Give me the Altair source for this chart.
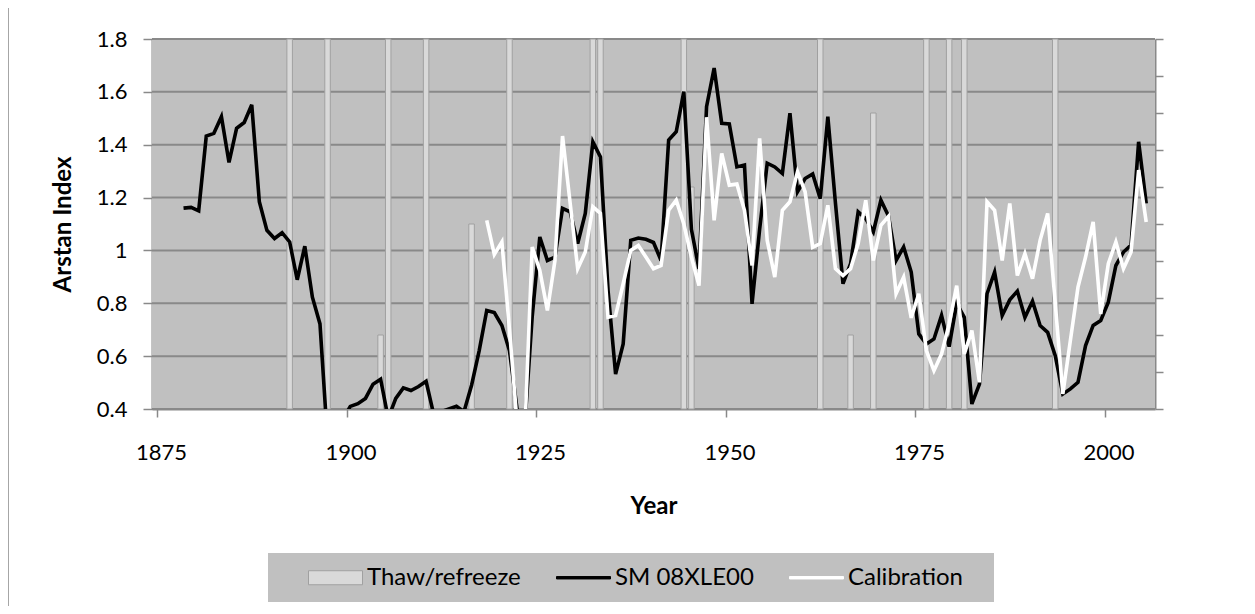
import altair as alt
import pandas as pd

# ---------------- data ----------------
series_names = ["Thaw/refreeze", "SM 08XLE00", "Calibration"]
series_fill = ["#d9d9d9", "#000000", "#ffffff"]
series_stroke = ["#a0a0a0", "#000000", "#ffffff"]

sm_years = list(range(1878, 2006))
sm_values = [1.16, 1.163, 1.15, 1.433, 1.443, 1.506, 1.333, 1.462, 1.484, 1.551,   # 1878-1887
             1.184, 1.076, 1.045, 1.067, 1.032, 0.889, 1.016, 0.823, 0.722, 0.28,   # 1888-1897
             0.25, 0.36, 0.41, 0.42, 0.44, 0.494, 0.513, 0.365, 0.44, 0.48,         # 1898-1907
             0.47, 0.485, 0.505, 0.38, 0.39, 0.40, 0.41, 0.39, 0.49, 0.62,          # 1908-1917
             0.773, 0.765, 0.716, 0.62, 0.40, 0.33, 0.75, 1.051, 0.962, 0.975,      # 1918-1927
             1.159, 1.146, 1.026, 1.140, 1.411, 1.354, 0.85, 0.532, 0.646, 1.038,   # 1928-1937
             1.047, 1.042, 1.03, 0.962, 1.418, 1.449, 1.601, 1.08, 0.93, 1.544,     # 1938-1947
             1.69, 1.481, 1.479, 1.316, 1.323, 0.798, 1.08, 1.33, 1.316, 1.291,     # 1948-1957
             1.519, 1.222, 1.272, 1.289, 1.196, 1.506, 1.18, 0.874, 0.95, 1.146,    # 1958-1967
             1.12, 1.07, 1.19, 1.13, 0.962, 1.013, 0.918, 0.684, 0.646, 0.665,      # 1968-1977
             0.754, 0.636, 0.80, 0.747, 0.419, 0.494, 0.836, 0.918, 0.754, 0.813,   # 1978-1987
             0.846, 0.747, 0.808, 0.716, 0.69, 0.602, 0.457, 0.476, 0.501, 0.64,    # 1988-1997
             0.716, 0.735, 0.804, 0.943, 0.994, 1.02, 1.411, 1.178]                 # 1998-2005

cal_years = list(range(1918, 2006))
cal_values = [1.114, 0.985, 1.032, 0.70, 0.35, 0.30, 1.013, 0.924, 0.773, 0.962,   # 1918-1927
              1.433, 1.18, 0.931, 0.994, 1.165, 1.14, 0.747, 0.754, 0.874, 1.0,     # 1928-1937
              1.019, 0.975, 0.931, 0.943, 1.152, 1.19, 1.10, 0.975, 0.867, 1.504,  # 1938-1947
              1.114, 1.367, 1.247, 1.251, 1.152, 0.943, 1.424, 1.038, 0.899, 1.152, # 1948-1957
              1.184, 1.298, 1.222, 1.012, 1.026, 1.171, 0.931, 0.905, 0.931, 1.026, # 1958-1967
              1.19, 0.962, 1.095, 1.129, 0.836, 0.899, 0.745, 0.836, 0.621, 0.545,  # 1968-1977
              0.608, 0.722, 0.867, 0.608, 0.697, 0.501, 1.184, 1.152, 0.962, 1.178, # 1978-1987
              0.905, 0.988, 0.893, 1.038, 1.14, 0.80, 0.457, 0.66, 0.861, 0.975,    # 1988-1997
              1.108, 0.76, 0.95, 1.032, 0.931, 0.994, 1.304, 1.108]                 # 1998-2005

thaw_years = [1892, 1897, 1904, 1905, 1910, 1916, 1921, 1932, 1933, 1944, 1945,
              1962, 1966, 1969, 1976, 1979, 1981, 1993]
thaw_values = [1, 1, 0.2, 1, 1, 0.5, 1, 1, 1, 1, 0.6, 1, 0.2, 0.8, 1, 1, 1, 1]

x_ticks = [1875, 1900, 1925, 1950, 1975, 2000]
y_ticks = [0.4, 0.6, 0.8, 1.0, 1.2, 1.4, 1.6, 1.8]
y2_ticks = [0, 0.1, 0.2, 0.3, 0.4, 0.5, 0.6, 0.7, 0.8, 0.9, 1.0]

sm_df = pd.DataFrame({"year": sm_years, "value": sm_values})
cal_df = pd.DataFrame({"year": cal_years, "value": cal_values})
thaw_df = pd.DataFrame({"year": thaw_years, "value": thaw_values})
key_df = pd.DataFrame({"series": series_names})
grid_df = pd.DataFrame({"g": y_ticks})

# ---------------- style ----------------
FONT = "Lato"
GRID = "#898989"
PLOT_BG = "#c0c0c0"
W, H = 1003, 370
SWATCH_BOX = "M-1,-0.26H1V0.26H-1Z"
SWATCH_LINE = "M-1,-0.045H1V0.045H-1Z"

x_enc = alt.X(
    "xpos:Q",
    scale=alt.Scale(domain=[1875, 2006], nice=False, zero=False),
    axis=alt.Axis(values=x_ticks, format="d", labelOffset=4, labelPadding=25,
                  labelFont=FONT, labelFontSize=22, labelColor="black",
                  tickSize=8, tickColor=GRID, tickWidth=1.5,
                  domainColor=GRID, domainWidth=2, grid=False,
                  labelFlush=False, labelOverlap=False,
                  title="Year", titleFont=FONT, titleFontSize=24, titleFontWeight="bold",
                  titleColor="black", titleX=W / 2, titleY=104,
                  titleBaseline="alphabetic", titleAlign="center"),
)

y_axis = alt.Axis(values=y_ticks, format="~g", orient="left",
                  labelFont=FONT, labelFontSize=22, labelColor="black", labelPadding=16,
                  tickSize=9, tickColor=GRID, tickWidth=1.5,
                  domainColor=GRID, domainWidth=2, grid=False,
                  title="Arstan Index", titleFont=FONT, titleFontSize=24,
                  titleFontWeight="bold", titleColor="black", titleAngle=270,
                  titleX=-82, titleY=H / 2, titleBaseline="alphabetic", titleAlign="center")

y_scale = alt.Scale(domain=[0.4, 1.8], nice=False, zero=False)

legend = alt.Legend(
    title=None, orient="none", legendX=156, legendY=511, direction="horizontal",
    columns=3, columnPadding=33, labelOffset=4, padding=0,
    labelFont=FONT, labelFontSize=24, labelColor="black",
    symbolSize=2916, labelLimit=400, symbolOpacity=1, symbolStrokeWidth=1,
)

deco = pd.DataFrame({"k": [0]})

# plot-area background and horizontal gridlines (drawn beneath the bars)
plot_bg = alt.Chart(deco).mark_rect(fill=PLOT_BG).encode(
    x=alt.value(0), x2=alt.value(W), y=alt.value(0), y2=alt.value(H)
)
grid = alt.Chart(grid_df).mark_rule(color=GRID, strokeWidth=2).encode(
    y=alt.Y("g:Q", scale=y_scale, axis=None)
)

bars = alt.Chart(thaw_df).transform_calculate(xpos="datum.year + 0.5").mark_bar(
    size=5.5, fill=series_fill[0], stroke=series_stroke[0], strokeWidth=1
).encode(
    x=x_enc,
    y=alt.Y("value:Q", scale=alt.Scale(domain=[0, 1], nice=False),
            axis=alt.Axis(orient="right", values=y2_ticks, labels=False, title=None,
                          grid=False, tickSize=8, tickColor=GRID, tickWidth=1.5,
                          domainColor=GRID, domainWidth=2)),
)

def line_layer(df, colour):
    return alt.Chart(df).transform_calculate(xpos="datum.year + 0.5").mark_line(
        strokeWidth=3.6, clip=True, color=colour
    ).encode(
        x=x_enc,
        y=alt.Y("value:Q", scale=y_scale, axis=y_axis),
    )

lines = alt.layer(line_layer(sm_df, series_fill[1]), line_layer(cal_df, series_fill[2]))

# invisible layer that only carries the legend
key = alt.Chart(key_df).mark_point(filled=True, opacity=0, strokeWidth=1).encode(
    color=alt.Color("series:N", scale=alt.Scale(domain=series_names, range=series_fill),
                    legend=legend),
    stroke=alt.Stroke("series:N", scale=alt.Scale(domain=series_names, range=series_stroke),
                      legend=legend),
    shape=alt.Shape("series:N", scale=alt.Scale(domain=series_names,
                                                range=[SWATCH_BOX, SWATCH_LINE, SWATCH_LINE]),
                    legend=legend),
)

legend_box = alt.Chart(deco).mark_rect(fill=PLOT_BG, clip=False).encode(
    x=alt.value(116), x2=alt.value(842), y=alt.value(514), y2=alt.value(563)
)
frame = alt.Chart(deco).mark_rule(stroke="#a6a6a6", strokeWidth=1, clip=False).encode(
    x=alt.value(-143.5), y=alt.value(-31), y2=alt.value(567)
)

chart = alt.layer(frame, legend_box, plot_bg, grid, bars, lines, key).resolve_scale(
    y="independent"
).properties(
    width=W, height=H,
    autosize=alt.AutoSizeParams(type="none"),
    padding={"left": 144, "top": 31, "right": 1239 - 144 - W, "bottom": 598 - 31 - H},
    background="white",
).configure_view(fill=PLOT_BG, stroke=None)

chart.save("out.html", embed_options={"renderer": "svg", "actions": False})
